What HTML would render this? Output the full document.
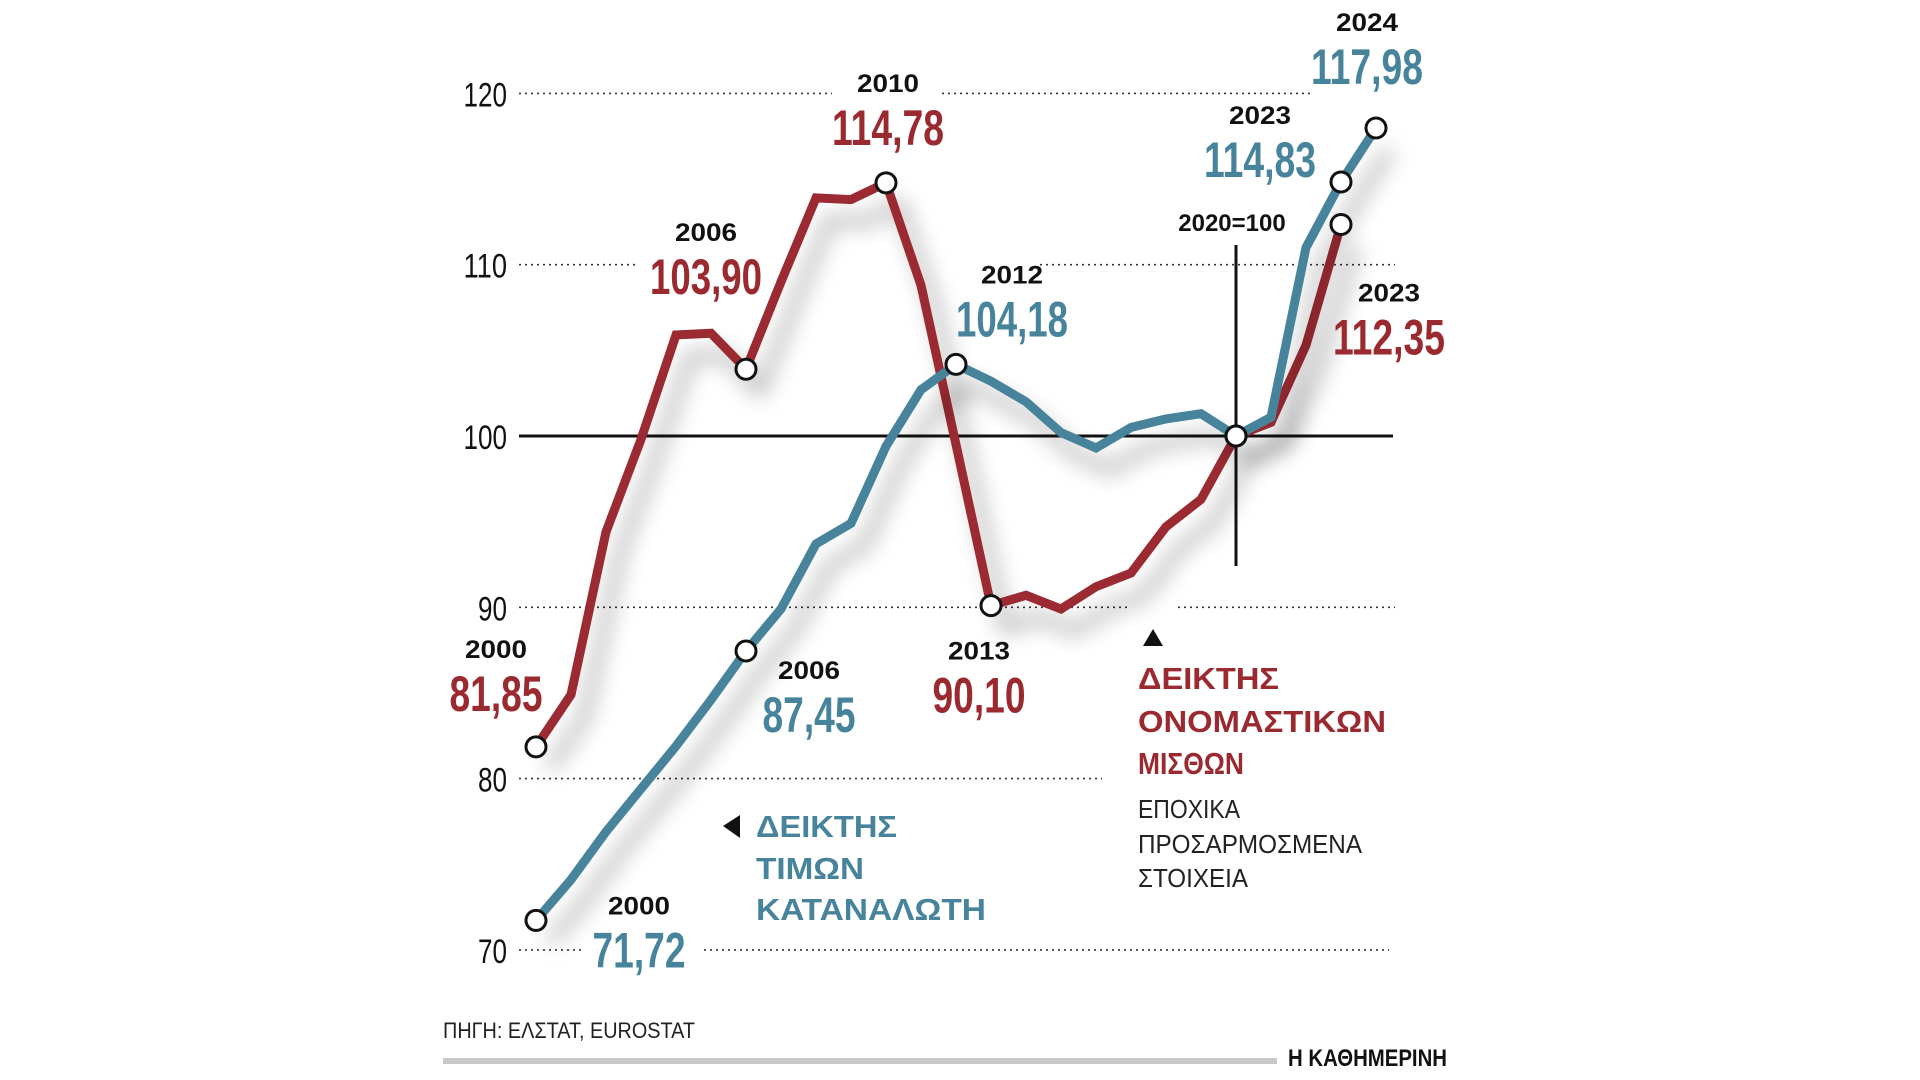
<!DOCTYPE html>
<html><head><meta charset="utf-8"><style>
html,body{margin:0;padding:0;background:#fff;}
svg{display:block;}
text{font-family:"Liberation Sans","DejaVu Sans",sans-serif;}
</style></head><body>
<svg id="chart" width="1920" height="1080" viewBox="0 0 1920 1080" xmlns="http://www.w3.org/2000/svg">
<defs>
<filter id="sh" x="-20%" y="-20%" width="140%" height="140%">
<feDropShadow dx="14" dy="22" stdDeviation="11" flood-color="#000" flood-opacity="0.35"/>
</filter>
</defs>
<g id="grid"></g>
<g id="ticks"></g>
<line x1="1236" y1="245" x2="1236" y2="566" stroke="#111" stroke-width="3"/>
<g id="series"></g>
<g id="labels"></g>
<text x="1232" y="231" text-anchor="middle" font-size="24" font-weight="bold" fill="#111">2020=100</text>
<g>
<polygon points="723,826 740,815 740,838" fill="#111"/>
<text x="756" y="837" font-size="31" font-weight="bold" fill="#47849c" textLength="141" lengthAdjust="spacingAndGlyphs">ΔΕΙΚΤΗΣ</text>
<text x="756" y="879" font-size="31" font-weight="bold" fill="#47849c" textLength="108" lengthAdjust="spacingAndGlyphs">ΤΙΜΩΝ</text>
<text x="756" y="920" font-size="31" font-weight="bold" fill="#47849c" textLength="230" lengthAdjust="spacingAndGlyphs">ΚΑΤΑΝΑΛΩΤΗ</text>
</g>
<g>
<polygon points="1153,629 1143,646 1163,646" fill="#111"/>
<text x="1138" y="689" font-size="31" font-weight="bold" fill="#9b2a30" textLength="141" lengthAdjust="spacingAndGlyphs">ΔΕΙΚΤΗΣ</text>
<text x="1138" y="732" font-size="31" font-weight="bold" fill="#9b2a30" textLength="248" lengthAdjust="spacingAndGlyphs">ΟΝΟΜΑΣΤΙΚΩΝ</text>
<text x="1138" y="774" font-size="31" font-weight="bold" fill="#9b2a30" textLength="106" lengthAdjust="spacingAndGlyphs">ΜΙΣΘΩΝ</text>
<text x="1138" y="818" font-size="26" fill="#222" textLength="102" lengthAdjust="spacingAndGlyphs">ΕΠΟΧΙΚΑ</text>
<text x="1138" y="853" font-size="26" fill="#222" textLength="224" lengthAdjust="spacingAndGlyphs">ΠΡΟΣΑΡΜΟΣΜΕΝΑ</text>
<text x="1138" y="887" font-size="26" fill="#222" textLength="110" lengthAdjust="spacingAndGlyphs">ΣΤΟΙΧΕΙΑ</text>
</g>
<text x="443" y="1038" font-size="22" fill="#222" textLength="252" lengthAdjust="spacingAndGlyphs">ΠΗΓΗ: ΕΛΣΤΑΤ, EUROSTAT</text>
<rect x="443" y="1058" width="834" height="6" fill="#c8c8c8"/>
<text x="1288" y="1066" font-size="24" font-weight="bold" fill="#111" font-family="Liberation Serif, serif" textLength="159" lengthAdjust="spacingAndGlyphs">Η ΚΑΘΗΜΕΡΙΝΗ</text>
</svg>
<script>
const years = [2000,2001,2002,2003,2004,2005,2006,2007,2008,2009,2010,2011,2012,2013,2014,2015,2016,2017,2018,2019,2020,2021,2022,2023,2024];
const wages = [81.85,84.9,94.4,99.8,105.9,106.0,103.9,109.0,113.9,113.8,114.78,108.8,99.5,90.1,90.7,89.9,91.2,92.0,94.7,96.3,100,100.8,105.3,112.35];
const cpi = [71.72,74.1,76.9,79.4,81.9,84.6,87.45,89.9,93.7,94.9,99.4,102.7,104.18,103.2,102.0,100.2,99.3,100.5,101.0,101.3,100,101.1,111.0,114.83,117.98];
const tickValues = [70,80,90,100,110,120];
const tickLabels = ["70","80","90","100","110","120"];
const wageMarks = [2000,2006,2010,2013,2020,2023];
const cpiMarks = [2000,2006,2012,2020,2023,2024];
const wageLabels = [["2000","81,85",2000,81.85],["2006","103,90",2006,103.9],["2010","114,78",2010,114.78],["2013","90,10",2013,90.1],["2023","112,35",2023,112.35]];
const cpiLabels = [["2000","71,72",2000,71.72],["2006","87,45",2006,87.45],["2012","104,18",2012,104.18],["2023","114,83",2023,114.83],["2024","117,98",2024,117.98]];

const NS="http://www.w3.org/2000/svg";
const x = yr => 536 + (yr-2000)*35;
const y = v => 436 - (v-100)*17.13;
function el(tag, attrs, parent){const e=document.createElementNS(NS,tag);for(const k in attrs)e.setAttribute(k,attrs[k]);parent.appendChild(e);return e;}
const grid=document.getElementById('grid'), ticks=document.getElementById('ticks'), series=document.getElementById('series'), labels=document.getElementById('labels');
const segs={70:[[519,585],[704,1389]],80:[[519,1102]],90:[[519,1130],[1178,1395]],110:[[519,639],[1040,1395]],120:[[519,832],[942,1310]]};
tickValues.forEach((v,i)=>{
  if(v===100){
    const l=el('line',{x1:519,x2:1393,y1:y(v),y2:y(v),stroke:'#111','stroke-width':3},grid);
    
    
  } else {
    (segs[v]||[[519,1393]]).forEach(s=>{
      const l=el('line',{x1:s[0],x2:s[1],y1:y(v),y2:y(v),stroke:'#333','stroke-width':1.6,'stroke-dasharray':'2 4'},grid);
      
      
    });
  }
  const t=el('text',{x:507,y:y(v)+13,'text-anchor':'end','font-size':34,fill:'#111',textLength:tickLabels[i].length*14.5,lengthAdjust:'spacingAndGlyphs'},ticks);
  t.textContent=tickLabels[i];
  
  
});
function drawLine(vals,color,name){
  const d=vals.map((v,i)=>(i?'L':'M')+x(years[i])+','+y(v)).join(' ');
  const p=el('path',{d:d,fill:'none',stroke:color,'stroke-width':9,'stroke-linejoin':'miter',filter:'url(#sh)'},series);
  
  
}
drawLine(wages,'#9b2a30','wages-line');
drawLine(cpi,'#47849c','cpi-line');
function marks(list,vals,name){
  list.forEach(yr=>{
    const i=years.indexOf(yr);
    const c=el('circle',{cx:x(yr),cy:y(vals[i]),r:10,fill:'#fff',stroke:'#111','stroke-width':3},series);
    
    
  });
}
marks(wageMarks,wages,'wages');
marks(cpiMarks,cpi,'cpi');
const offW={2000:[-40,-36],2006:[-40,-75],2010:[2,-38],2013:[-12,107],2023:[48,130]};
const offC={2000:[103,47],2006:[63,81],2012:[56,-28],2023:[-81,-5],2024:[-9,-44]};
function drawLabels(arr,off,color,name){
  arr.forEach(a=>{
    const o=off[a[2]];
    const cx=x(a[2])+o[0], by=y(a[3])+o[1];
    const t1=el('text',{x:cx,y:by-53,'text-anchor':'middle','font-size':25,'font-weight':'bold',fill:'#111',textLength:62,lengthAdjust:'spacingAndGlyphs'},labels);
    t1.textContent=a[0];
    
    
    const w=a[1].length>5?112:93;
    const t2=el('text',{x:cx,y:by,'text-anchor':'middle','font-size':50,'font-weight':'bold',fill:color,textLength:w,lengthAdjust:'spacingAndGlyphs'},labels);
    t2.textContent=a[1];
    
    
  });
}
drawLabels(wageLabels,offW,'#9b2a30','wages');
drawLabels(cpiLabels,offC,'#47849c','cpi');
</script>
</body></html>
